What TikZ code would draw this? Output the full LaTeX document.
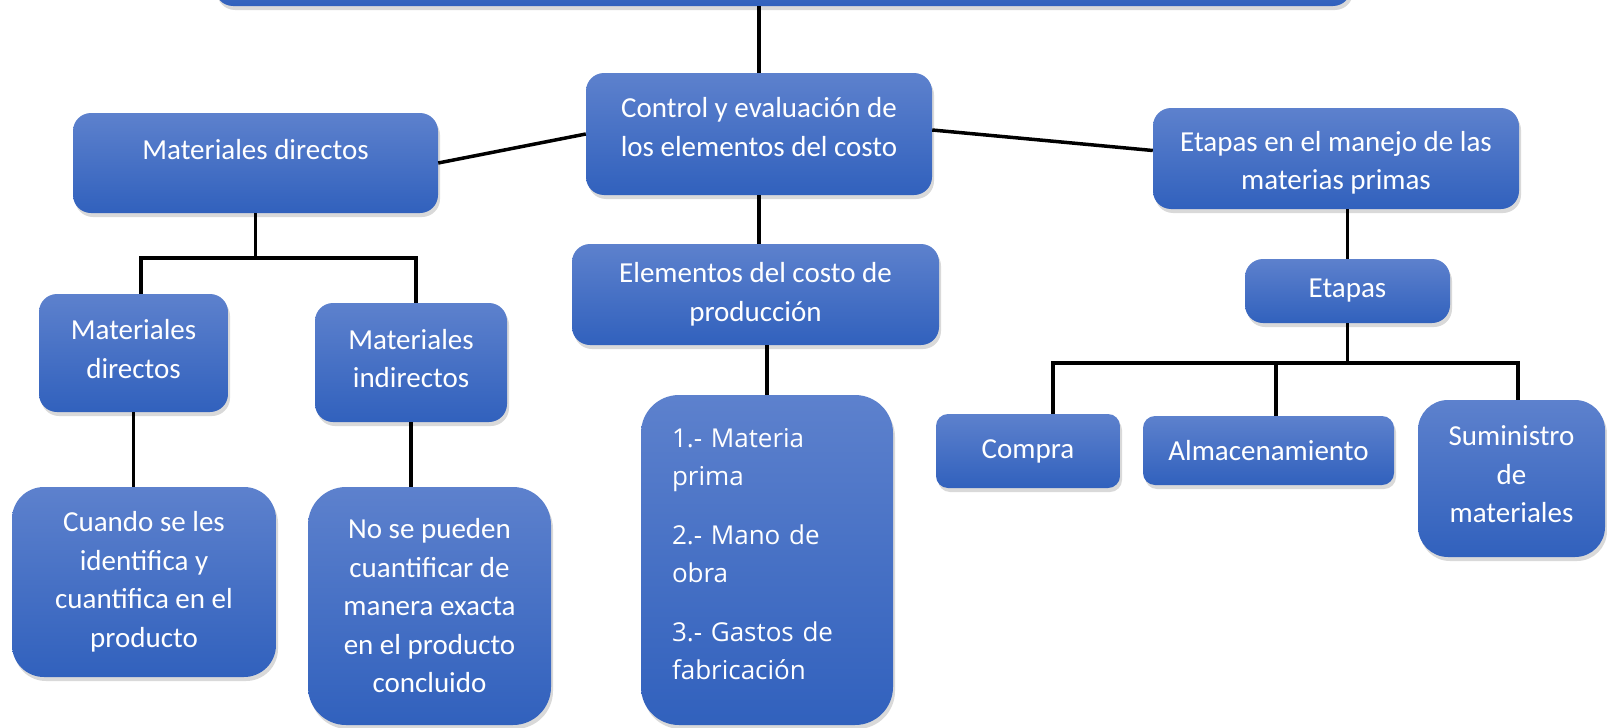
\documentclass[tikz,border=0pt]{standalone}
\usepackage{fontspec}
\setmainfont{Carlito}
\newfontfamily\listafont{Open Sans}
\usetikzlibrary{shadows}
\definecolor{cajaarriba}{RGB}{93,129,205}
\definecolor{cajaabajo}{RGB}{49,97,189}

\begin{document}
\begin{tikzpicture}[x=1pt, y=-1pt,
	caja/.style={rectangle, rounded corners=18pt, top color=cajaarriba, bottom color=cajaabajo, draw=none, text=white, align=center, inner sep=4pt, font=\fontsize{29}{38.5}\selectfont, drop shadow={shadow xshift=2pt, shadow yshift=-4pt, opacity=0.3}},
	cajagrande/.style={caja, rounded corners=38pt},
	enlace/.style={line width=3.5pt, black}]
	\useasboundingbox (0,0) rectangle (1607,728);

	\node[caja, minimum width=1136pt, minimum height=66pt] (raiz) at (783,-27) {};
	\node[caja, minimum width=346pt, minimum height=122pt, text depth=14pt] (control) at (759,134) {Control y evaluación de\\los elementos del costo};
	\node[caja, minimum width=365pt, minimum height=100pt, text depth=28pt] (matdir) at (255.5,163) {Materiales directos};
	\node[caja, minimum width=366pt, minimum height=101pt, text height=67pt] (etmanejo) at (1336,158.5) {Etapas en el manejo de las\\materias primas};
	\node[caja, minimum width=367pt, minimum height=101pt] (elementos) at (755.5,294.5) {Elementos del costo de\\producción};
	\node[caja, minimum width=205pt, minimum height=64pt] (etapas) at (1347.5,291) {Etapas};

	\node[caja, minimum width=189pt, minimum height=118pt, text depth=8pt] (matdirb) at (133.5,353) {Materiales\\directos};
	\node[caja, minimum width=192pt, minimum height=119pt, text depth=8pt] (matind) at (411,362.5) {Materiales\\indirectos};
	\node[cajagrande, rounded corners=32pt, minimum width=264pt, minimum height=190pt] (cuando) at (144,582) {Cuando se les\\identifica y\\cuantifica en el\\producto};
	\node[cajagrande, minimum width=243pt, minimum height=238pt] (nosepueden) at (429.5,606) {No se pueden\\cuantificar de\\manera exacta\\en el producto\\concluido};
	\node[cajagrande, minimum width=252pt, minimum height=330pt, text width=190pt, align=left, text depth=244pt, font=\listafont\fontsize{26}{37.5}\selectfont] (lista) at (767,560) {1.- Materia\\prima\\[22pt]2.- Mano de\\obra\\[22pt]3.- Gastos de\\fabricación};

	\node[caja, rounded corners=12pt, minimum width=184pt, minimum height=74pt] (compra) at (1028,451) {Compra};
	\node[caja, rounded corners=12pt, minimum width=251pt, minimum height=69pt] (almacen) at (1268.5,450.5) {Almacenamiento};
	\node[cajagrande, rounded corners=30pt, minimum width=187pt, minimum height=157pt, text depth=8pt] (suministro) at (1511.5,478.5) {Suministro\\de\\materiales};

	\draw[enlace] (raiz.south -| control.north) -- (control.north);
	\draw[enlace] (matdir.east) -- (control.west);
	\draw[enlace] ([yshift=4pt]control.east) -- ([yshift=8pt]etmanejo.west);
	\draw[enlace] (control.south) -- (control.south |- elementos.north);
	\draw[enlace] (lista.north) -- (lista.north |- elementos.south);
	\draw[enlace] (etapas.north) -- (etapas.north |- etmanejo.south);

	\draw[enlace] (matdir.south) -- ++(0,45) coordinate (bifmat);
	\draw[enlace] ([xshift=7.5pt]matdirb.north) |- (bifmat) -| ([xshift=5pt]matind.north);
	\draw[enlace] (matdirb.south) -- (matdirb.south |- cuando.north);
	\draw[enlace] (matind.south) -- (matind.south |- nosepueden.north);

	\draw[enlace] (etapas.south) -- ++(0,40) coordinate (bifetapas);
	\draw[enlace] ([xshift=25pt]compra.north) |- (bifetapas) -| ([xshift=6.5pt]suministro.north);
	\draw[enlace] ([xshift=7.5pt]almacen.north) -- ([xshift=7.5pt]almacen.north |- bifetapas);
\end{tikzpicture}
\end{document}
